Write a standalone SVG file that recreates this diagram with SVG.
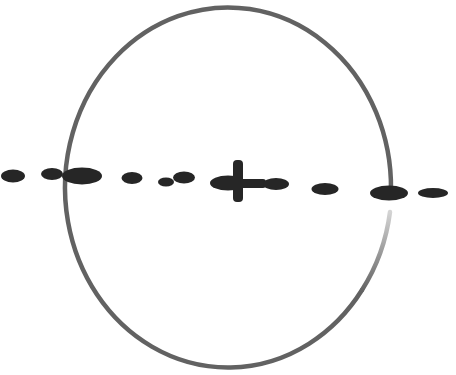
<svg xmlns="http://www.w3.org/2000/svg" width="456" height="375" viewBox="0 0 456 375">
<defs>
<style>
.ring{fill:none;stroke:#626262;stroke-width:4.5;stroke-linecap:round}
.dash{fill:#262626}
</style>
<linearGradient id="fade" gradientUnits="userSpaceOnUse" x1="0" y1="292" x2="0" y2="212">
<stop offset="0" stop-color="#626262"/>
<stop offset="1" stop-color="#d4d4d4"/>
</linearGradient>
</defs>
<rect width="456" height="375" fill="#fff"/>
<g id="ring">
<path class="ring" d="M391,190 A163,180 0 1 0 362,290"/>
<path class="ring" style="stroke:url(#fade)" d="M362,290 A163,180 0 0 0 390,212"/>
</g>
<g id="axis">
<ellipse class="dash" cx="13" cy="176" rx="12" ry="6.5"/>
<ellipse class="dash" cx="52" cy="174" rx="11" ry="6"/>
<ellipse class="dash" cx="82" cy="176" rx="20" ry="8.5"/>
<ellipse class="dash" cx="132" cy="178" rx="10.5" ry="6"/>
<ellipse class="dash" cx="166" cy="182" rx="8" ry="4.5"/>
<ellipse class="dash" cx="184" cy="177.5" rx="11" ry="6"/>
<ellipse class="dash" cx="228" cy="183" rx="18" ry="7.5"/>
<rect class="dash" x="238" y="179" width="28" height="9" rx="3"/>
<ellipse class="dash" cx="276" cy="184" rx="13" ry="6"/>
<rect class="dash" x="233" y="160" width="10" height="42" rx="4"/>
<ellipse class="dash" cx="325" cy="189" rx="13.5" ry="6"/>
<ellipse class="dash" cx="389" cy="193" rx="19" ry="7.5"/>
<ellipse class="dash" cx="433" cy="193" rx="15" ry="5"/>
</g>
</svg>
